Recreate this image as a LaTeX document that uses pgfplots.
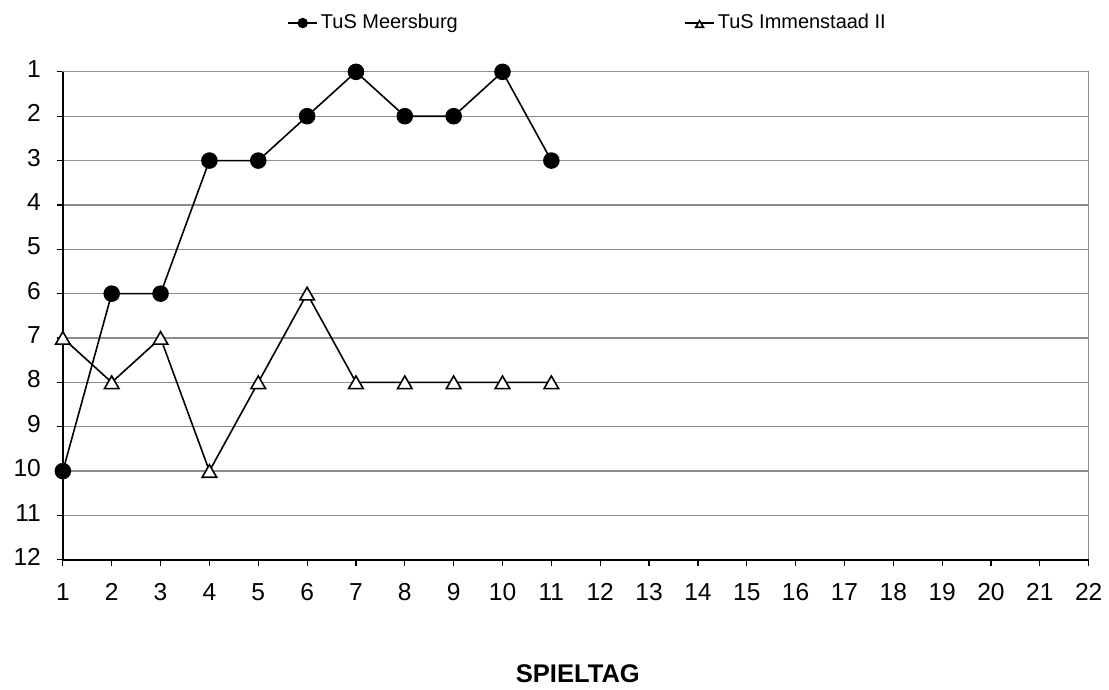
\documentclass[border=0pt]{standalone}
\usepackage{fontspec}
\setmainfont{Liberation Sans}
\usepackage{pgfplots}
\pgfplotsset{compat=1.18}

\begin{document}
\begin{tikzpicture}
\begin{axis}[
    scale only axis,
    width=514pt, height=244.5pt,
    xmin=1, xmax=22,
    ymin=1, ymax=12,
    y dir=reverse,
    xtick={1,...,22},
    ytick={1,...,12},
    tick pos=left,
    tick align=outside,
    major tick length=3pt,
    tick style={black, line width=0.6pt},
    axis line style={black!45, line width=0.6pt},
    ymajorgrids=true,
    major grid style={black!45, line width=0.6pt},
    clip=false,
    /pgf/number format/assume math mode=true,
    typeset ticklabels with strut,
    ticklabel style={font=\fontsize{12.3}{14}\selectfont},
    xticklabel style={yshift=-4pt},
    yticklabel style={xshift=-4.5pt},
    xlabel={SPIELTAG},
    xlabel style={font=\bfseries\fontsize{12.8}{14}\selectfont,
        at={(axis description cs:0.502,-0.233)}, anchor=center},
    legend columns=2,
    legend style={draw=none, fill=none,
        at={(axis description cs:0.512,1.100)}, anchor=center,
        font=\fontsize{10}{12}\selectfont,
        nodes={inner xsep=1.5pt},
        /tikz/every even column/.append style={column sep=112pt}},
    legend image code/.code={
        \draw[mark repeat=2, mark phase=2, #1, mark size=2.2pt]
            plot coordinates {(0pt,0pt) (7.25pt,0pt) (14.5pt,0pt)};
    },
]

% TuS Meersburg
\addplot[black, line width=0.8pt, mark=*, mark size=3.75pt]
    coordinates {
    (1,10)(2,6)(3,6)(4,3)(5,3)(6,2)(7,1)(8,2)(9,2)(10,1)(11,3)
    };
\addlegendentry{TuS Meersburg}

% TuS Immenstaad II
\addplot[black, line width=0.8pt, mark=triangle*, mark size=4.2pt,
    mark options={fill=white, yshift=-1pt}]
    coordinates {
    (1,7)(2,8)(3,7)(4,10)(5,8)(6,6)(7,8)(8,8)(9,8)(10,8)(11,8)
    };
\addlegendentry{TuS Immenstaad II}

% black left and bottom axis lines
\draw[black, line width=0.8pt] (axis cs:1,1) -- (axis cs:1,12) -- (axis cs:22,12);

% canvas
\path (axis cs:1,12) ++(-31.5pt,-60.5pt) rectangle ++(554.5pt,341pt);
\end{axis}
\end{tikzpicture}
\end{document}
